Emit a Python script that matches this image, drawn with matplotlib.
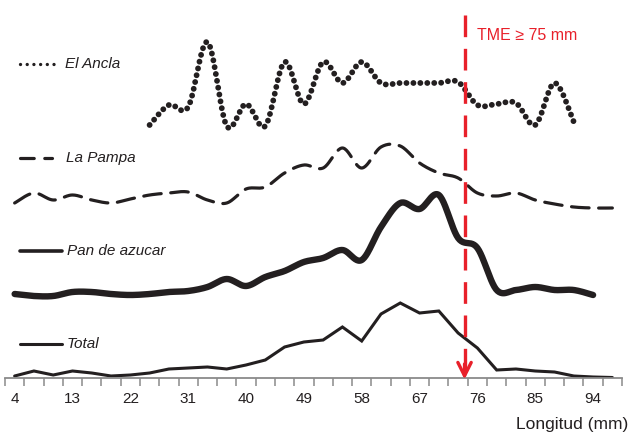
import numpy as np
import matplotlib
matplotlib.use("Agg")
import matplotlib.pyplot as plt
from matplotlib.lines import Line2D

plt.rcParams['font.family'] = ['Liberation Sans', 'DejaVu Sans']

# ---- data (category = length class, mm) ----
lengths = np.arange(4, 98, 3)  # 4,7,...,97
tick_labels = [4, 13, 22, 31, 40, 49, 58, 67, 76, 85, 94]

total = [2, 7, 3, 7, 5, 2, 3, 5, 9, 10, 11, 9, 13, 18, 31, 36, 38, 51, 37, 64,
         75, 65, 67, 45, 30, 8, 9, 7, 6, 2, 1, 0.5]
pan_x = np.arange(4, 95, 3)
pan = [6, 4, 4, 8, 8, 6, 5, 6, 8, 9, 13, 21, 14, 23, 29, 38, 42, 50, 40, 73,
       97, 91, 105, 62, 52, 10, 10, 13, 10, 10, 5]
pampa = [7, 17, 10, 15, 10, 7, 11, 15, 17, 18, 10, 7, 21, 23, 37, 45, 42, 62,
         42, 63, 64, 47, 37, 32, 17, 14, 17, 10, 6, 3, 2, 2]
ancla_x = np.arange(25, 92, 3)
ancla = [3, 23, 21, 86, 2, 24, 2, 66, 24, 66, 45, 66, 45, 45, 45, 45, 46, 23,
         24, 25, 3, 45, 6]

series_names = ["El Ancla", "La Pampa", "Pan de azucar", "Total"]
tme = 74
tme_label = "TME \u2265 75 mm"

# ---- layout constants (vertical offsets of stacked profiles) ----
off_total, off_pan, off_pampa, off_ancla = 0, 78, 168, 250

W, H = 632, 433
fig = plt.figure(figsize=(W / 100, H / 100), dpi=100)
ax = fig.add_axes([5 / W, (H - 378) / H, (622 - 5) / W, 378 / H])
ax.set_xlim(2.5, 98.5)
ax.set_ylim(0, 378)

ink = "#231f20"
red = "#e8202a"


def smooth(x, y, n=24):
    P = np.column_stack([x, y]).astype(float)
    pad = np.vstack([P[0], P, P[-1]])
    out = []
    t = np.linspace(0, 1, n, endpoint=False)[:, None]
    for i in range(len(P) - 1):
        p0, p1, p2, p3 = pad[i], pad[i + 1], pad[i + 2], pad[i + 3]
        c1 = p1 + (p2 - p0) / 6
        c2 = p2 - (p3 - p1) / 6
        seg = (1 - t) ** 3 * p1 + 3 * (1 - t) ** 2 * t * c1 + 3 * (1 - t) * t ** 2 * c2 + t ** 3 * p2
        out.append(seg)
    out.append(P[-1:])
    S = np.vstack(out)
    return S[:, 0], S[:, 1]


# Total (straight segments)
ax.plot(lengths, np.array(total) + off_total, color=ink, lw=2.2,
        solid_joinstyle='miter', solid_capstyle='round')
# Pan de azucar (smoothed, thick)
sx, sy = smooth(pan_x, np.array(pan) + off_pan)
ax.plot(sx, sy, color=ink, lw=4.6, solid_capstyle='round')
# La Pampa (smoothed, dashed)
sx, sy = smooth(lengths, np.array(pampa) + off_pampa)
ax.plot(sx, sy, color=ink, lw=2.3, linestyle=(0, (5.5, 3.0)), dash_capstyle='round')
# El Ancla (smoothed, dotted)
sx, sy = smooth(ancla_x, np.array(ancla) + off_ancla)
ax.plot(sx, sy, color=ink, lw=4.2, linestyle=(0, (0.01, 1.18)), dash_capstyle='round')

# TME line and arrow
ax.plot([tme, tme], [8, 366], color=red, lw=2.4, linestyle=(0, (6.5, 3.5)))
ax.annotate('', xy=(tme, -1.5), xytext=(tme, 14), annotation_clip=False,
            arrowprops=dict(arrowstyle='->', color=red, lw=2.4, mutation_scale=24,
                            shrinkA=0, shrinkB=0))
ax.text(tme + 2.0, 378 - 35, tme_label, color=red, fontsize=11.5, va='center', ha='left')

# axes styling
for s in ['top', 'right', 'left']:
    ax.spines[s].set_visible(False)
ax.spines['bottom'].set_color('#8a8a8a')
ax.spines['bottom'].set_linewidth(1.3)
ax.set_yticks([])
bounds = np.arange(2.5, 99, 3)
ax.set_xticks(bounds)
ax.set_xticklabels([])
ax.tick_params(axis='x', which='major', length=6, width=1.1, color='#8a8a8a', direction='out')
ax.set_xticks(tick_labels, minor=True)
ax.set_xticklabels([str(v) for v in tick_labels], minor=True)
ax.tick_params(axis='x', which='minor', length=0, pad=10, labelsize=11, labelcolor=ink)

fig.text(628 / W, 1 - 424 / H, "Longitud (mm)", ha='right', va='center', fontsize=12.5, color=ink)

# legend-like labels
def fx(px):
    return px / W


def fy(py):
    return 1 - py / H


leg = [
    (64, 20, 57, dict(lw=2.4, linestyle=(0, (0.01, 2.0)), dash_capstyle='round'), 65),
    (158, 20, 52, dict(lw=2.3, linestyle=(0, (4.3, 3.3)), dash_capstyle='round'), 66),
    (251, 20, 62, dict(lw=2.6, solid_capstyle='round'), 67),
    (344, 20, 62, dict(lw=2.2, solid_capstyle='round'), 67),
]
for (py, x0, x1, kw, tx), name in zip(leg, series_names):
    fig.add_artist(Line2D([fx(x0), fx(x1)], [fy(py), fy(py)], color=ink,
                          transform=fig.transFigure, **kw))
    fig.text(fx(tx), fy(py), name, style='italic', fontsize=11, va='center', ha='left', color=ink)

fig.savefig("out.png", dpi=100)
